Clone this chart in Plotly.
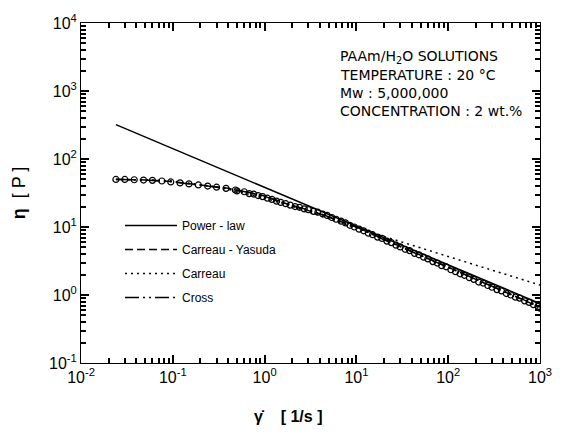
import plotly.graph_objects as go

# ---- data ----
shear_rate = [0.024, 0.03, 0.038, 0.048, 0.06, 0.076, 0.095, 0.12, 0.15, 0.19,
              0.24, 0.30, 0.38, 0.48, 0.60, 0.76, 0.95, 1.2, 1.5, 1.9,
              2.4, 3.0, 3.8, 4.8, 6.0, 7.6, 9.5, 12, 15, 19,
              24, 30, 38, 48, 60, 76, 95, 120, 150, 190,
              240, 300, 380, 480, 600, 760, 950]
viscosity = [50, 50, 49.5, 49, 48.5, 47.5, 46, 44.5, 43, 41.5,
             40, 38.5, 37, 35, 33, 30.5, 28, 25.5, 23, 21,
             19.5, 18, 16.5, 14.8, 13, 11.5, 10, 8.8, 7.7, 6.8,
             5.9, 5.1, 4.5, 3.9, 3.4, 2.95, 2.6, 2.2, 1.95, 1.7,
             1.5, 1.3, 1.15, 1.0, 0.9, 0.78, 0.68]

shear_rate_2 = [0.5, 0.68, 0.85, 1.07, 1.35, 1.7, 2.15, 2.7, 3.4, 4.3,
                5.4, 6.8, 8.5, 10.7, 13.5, 17, 21.5, 27, 34, 43,
                54, 68, 85, 107, 135, 170, 215, 270, 340, 430,
                540, 680, 850, 1000]
viscosity_2 = [34, 31, 29, 26.5, 24, 22, 20, 18.5, 17, 15.5,
               13.8, 12.2, 10.6, 9.3, 8.1, 7.1, 6.2, 5.4, 4.7, 4.1,
               3.6, 3.1, 2.7, 2.35, 2.05, 1.8, 1.55, 1.38, 1.2, 1.05,
               0.93, 0.82, 0.72, 0.64]

pl_rate = [0.024, 1000]
pl_visc = [320, 0.75]

cy_rate = [0.024, 0.05, 0.1, 0.2, 0.4, 0.7, 1, 2, 4, 7, 10, 20, 40, 100, 200, 400, 1000]
cy_visc = [50, 49.3, 46.5, 41.5, 37, 32, 28.5, 20.5, 15.6, 11.8, 10, 6.6, 4.4, 2.55, 1.7, 1.15, 0.66]

ca_rate = [0.024, 0.05, 0.1, 0.2, 0.4, 0.7, 1, 2, 4, 7, 10, 19, 40, 100, 200, 400, 1000]
ca_visc = [50, 49.5, 47.5, 42, 36, 30, 26.5, 20, 14.8, 11.3, 9.7, 7.4, 5.4, 3.69, 2.75, 2.06, 1.4]

cr_rate = [0.024, 0.05, 0.1, 0.2, 0.4, 0.7, 1, 2, 4, 7, 10, 20, 40, 100, 200, 400, 1000]
cr_visc = [50.2, 49, 46, 41.5, 36.8, 31.8, 28.2, 20.8, 15.8, 11.9, 10, 6.5, 4.35, 2.5, 1.68, 1.13, 0.67]

x_tickvals = [0.01, 0.1, 1, 10, 100, 1000]
x_ticktext = ["10<sup>-2</sup>", "10<sup>-1</sup>", "10<sup>0</sup>", "10<sup>1</sup>", "10<sup>2</sup>", "10<sup>3</sup>"]
y_tickvals = [0.1, 1, 10, 100, 1000, 10000]
y_ticktext = ["10<sup>-1</sup>", "10<sup>0</sup>", "10<sup>1</sup>", "10<sup>2</sup>", "10<sup>3</sup>", "10<sup>4</sup>"]

info_lines = ["PAAm/H<sub>2</sub>O SOLUTIONS", "TEMPERATURE : 20 \u00b0C",
              "Mw : 5,000,000", "CONCENTRATION : 2 wt.%"]

FONT = "Liberation Sans, Arial, sans-serif"
INFO_FONT = "DejaVu Sans, sans-serif"


def minor_vals(lo, hi):
    out = []
    for e in range(lo, hi):
        for m in range(2, 10):
            out.append(m * 10.0 ** e)
    return out


fig = go.Figure()

fig.add_trace(go.Scatter(x=shear_rate_2, y=viscosity_2, mode="markers",
                         marker=dict(symbol="circle-open", size=6, color="black", line=dict(width=1.2)),
                         showlegend=False))
fig.add_trace(go.Scatter(x=shear_rate, y=viscosity, mode="markers",
                         marker=dict(symbol="circle-open", size=6, color="black", line=dict(width=1.2)),
                         showlegend=False))

fig.add_trace(go.Scatter(x=pl_rate, y=pl_visc, mode="lines", name="Power - law", legendgroup="a",
                         line=dict(color="black", width=1.5, dash="solid")))
fig.add_trace(go.Scatter(x=cy_rate, y=cy_visc, mode="lines", name="Carreau - Yasuda", legendgroup="b",
                         line=dict(color="black", width=1.5, dash="8px,4px")))
fig.add_trace(go.Scatter(x=ca_rate, y=ca_visc, mode="lines", name="Carreau", legendgroup="c",
                         line=dict(color="black", width=1.5, dash="2px,4px")))
fig.add_trace(go.Scatter(x=cr_rate, y=cr_visc, mode="lines", name="Cross", legendgroup="d",
                         line=dict(color="black", width=1.5, dash="14px,4px,2px,4px,2px,4px")))

axis_common = dict(type="log", gridcolor="white", showline=True,
                   linecolor="black", mirror="ticks",
                   ticks="inside", ticklen=8, tickwidth=2, tickcolor="black",
                   tickfont=dict(family=FONT, size=16, color="black"))

fig.update_xaxes(range=[-2, 3], tickmode="array", tickvals=x_tickvals, ticktext=x_ticktext,
                 minor=dict(tickmode="array", tickvals=minor_vals(-2, 3), ticks="inside",
                            ticklen=5, tickwidth=1.5, tickcolor="black"),
                 **axis_common)
fig.update_yaxes(range=[-1, 4], tickmode="array", tickvals=y_tickvals, ticktext=y_ticktext,
                 minor=dict(tickmode="array", tickvals=minor_vals(-1, 4), ticks="inside",
                            ticklen=5, tickwidth=1.5, tickcolor="black"),
                 title=dict(text="<b>\u03b7</b>  [ P ]", font=dict(family=FONT, size=18, color="black"), standoff=18),
                 **axis_common)

# x-axis title (placed slightly left of centre as in the original)
fig.add_annotation(x=0.45, y=-0.125, xref="paper", yref="paper", showarrow=False,
                   xanchor="center", yanchor="top",
                   text="<b>\u03b3\u0307    [ 1/s ]</b>", font=dict(family=FONT, size=16, color="black"))

for i, line in enumerate(info_lines):
    fig.add_annotation(x=0.56, y=0.9 - i * 0.053, xref="paper", yref="paper",
                       text=line, showarrow=False, xanchor="left", yanchor="middle",
                       font=dict(family=INFO_FONT, size=14, color="black"))

fig.update_layout(
    width=564, height=435,
    margin=dict(l=81, r=12, t=15, b=72),
    paper_bgcolor="white", plot_bgcolor="white",
    legend=dict(x=0.085, y=0.447, xanchor="left", yanchor="top",
                bgcolor="rgba(0,0,0,0)", font=dict(family=FONT, size=12, color="black"),
                tracegroupgap=5, itemwidth=52),
)

fig.write_html("out.html")
